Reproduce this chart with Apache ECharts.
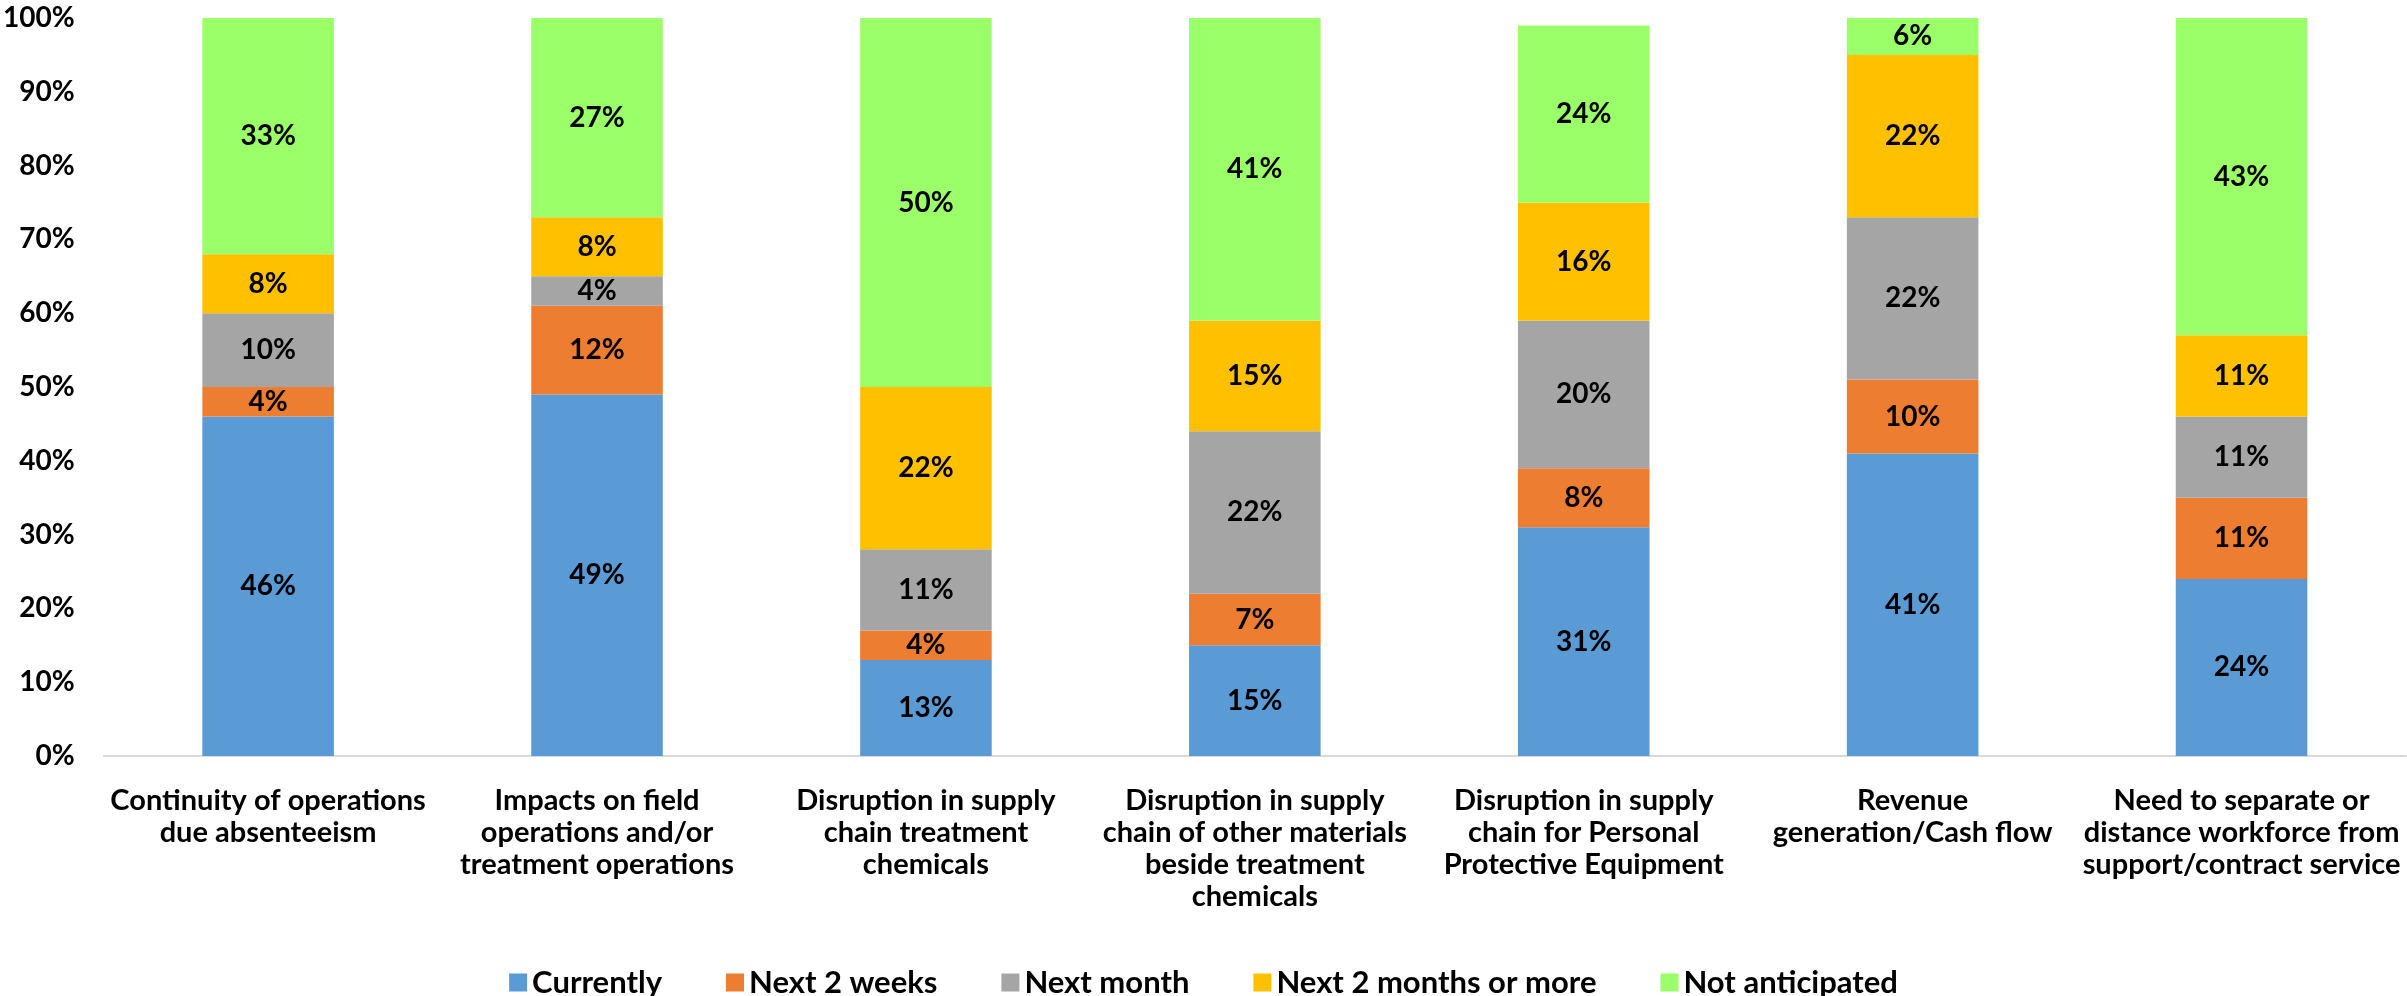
<!DOCTYPE html>
<html>
<head>
<meta charset="utf-8">
<script src="https://cdn.jsdelivr.net/npm/echarts@6/dist/echarts.min.js"></script>
<style>
html,body{margin:0;padding:0;background:#fff;}
#chart{width:2407px;height:996px;}
</style>
</head>
<body>
<div id="chart"></div>
<script>
const categories = [
  "Continuity of operations\ndue absenteeism",
  "Impacts on field\noperations and/or\ntreatment operations",
  "Disruption in supply\nchain treatment\nchemicals",
  "Disruption in supply\nchain of other materials\nbeside treatment\nchemicals",
  "Disruption in supply\nchain for Personal\nProtective Equipment",
  "Revenue\ngeneration/Cash flow",
  "Need to separate or\ndistance workforce from\nsupport/contract service"
];
const seriesNames = ["Currently", "Next 2 weeks", "Next month", "Next 2 months or more", "Not anticipated"];
const currently      = [46, 49, 13, 15, 31, 41, 24];
const next2weeks     = [4, 12, 4, 7, 8, 10, 11];
const nextMonth      = [10, 4, 11, 22, 20, 22, 11];
const next2months    = [8, 8, 22, 15, 16, 22, 11];
const notAnticipated = [33, 27, 50, 41, 24, 6, 43];
const colors = ["#5B9BD5", "#ED7D31", "#A5A5A5", "#FFC000", "#9BFF6A"];

const FONT = "Lato, 'Noto Sans', sans-serif";
const allData = [currently, next2weeks, nextMonth, next2months, notAnticipated];

const chart = echarts.init(document.getElementById('chart'));
chart.setOption({
  backgroundColor: '#fff',
  textStyle: {fontFamily: FONT},
  grid: {left: 96, right: 1, top: 18, bottom: 240, containLabel: false},
  legend: {
    data: seriesNames,
    left: 'center',
    top: 962,
    itemWidth: 18,
    itemHeight: 18,
    itemGap: 64,
    icon: 'rect',
    textStyle: {fontFamily: FONT, fontSize: 31, fontWeight: 'bold', color: '#000'}
  },
  xAxis: {
    type: 'category',
    data: categories,
    axisLine: {show: true, lineStyle: {color: '#D9D9D9', width: 2}},
    axisTick: {show: false},
    axisLabel: {
      interval: 0,
      margin: 29,
      fontFamily: FONT,
      fontSize: 29,
      fontWeight: 'bold',
      color: '#000',
      lineHeight: 32
    }
  },
  yAxis: {
    type: 'value',
    min: 0,
    max: 100,
    interval: 10,
    splitLine: {show: false},
    axisLine: {show: false},
    axisTick: {show: false},
    axisLabel: {
      formatter: '{value}%',
      margin: 29,
      fontFamily: FONT,
      fontSize: 28,
      fontWeight: 'bold',
      color: '#000'
    }
  },
  series: allData.map((d, i) => ({
    name: seriesNames[i],
    type: 'bar',
    stack: 'total',
    barCategoryGap: '60%',
    clip: true,
    data: d,
    itemStyle: {color: colors[i]},
    label: {
      show: true,
      position: 'inside',
      formatter: '{c}%',
      fontFamily: FONT,
      fontSize: 28,
      fontWeight: 'bold',
      color: '#000'
    }
  }))
});
</script>
</body>
</html>
